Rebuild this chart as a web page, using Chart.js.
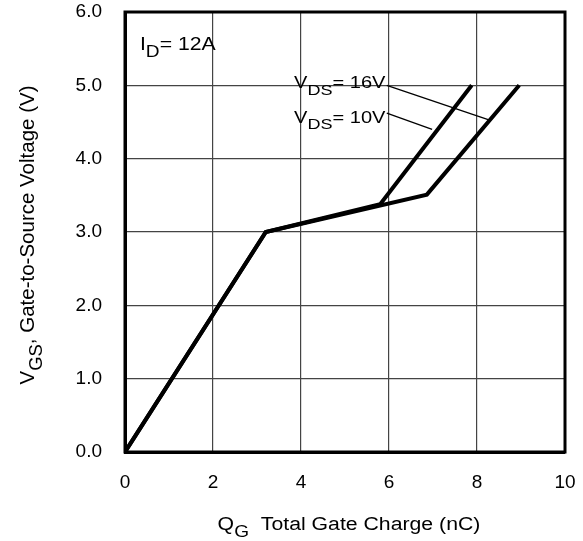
<!DOCTYPE html>
<html>
<head>
<meta charset="utf-8">
<script src="https://cdn.jsdelivr.net/npm/chart.js@4"></script>
<style>
  html, body { margin: 0; padding: 0; background: #fff; }
  #wrap { width: 583px; height: 541px; }
</style>
</head>
<body>
<div id="wrap"><canvas id="gate-chart"></canvas></div>
<script>
// gate charge curves (x = Qg in nC, y = Vgs in V)
const vds16Q = [0, 3.2, 5.8, 7.88];
const vds16V = [0, 3.0, 3.38, 5.0];
const vds10Q = [0, 3.2, 6.86, 8.96];
const vds10V = [0, 3.0, 3.51, 5.0];

// leader lines from the labels to the curves
const lead16Q = [5.95, 8.27];
const lead16V = [5.0, 4.53];
const lead10Q = [5.95, 6.98];
const lead10V = [4.62, 4.40];

const xTicks = [0, 2, 4, 6, 8, 10];
const yTicks = [0, 1, 2, 3, 4, 5, 6];

const xTitle = [['Q'], ['G', 'sub'], ['  Total Gate Charge (nC)']];
const yTitle = [['V'], ['GS', 'sub'], [', Gate-to-Source Voltage (V)']];
const notes = [
  { q: 0.34, v: 5.48, align: 'left', size: 18, parts: [['I'], ['D', 'sub'], ['= 12A']] },
  { q: 5.92, v: 4.96, align: 'right', size: 17, parts: [['V'], ['DS', 'sub'], ['= 16V']] },
  { q: 5.92, v: 4.49, align: 'right', size: 17, parts: [['V'], ['DS', 'sub'], ['= 10V']] }
];

function toPoints(xs, ys) {
  return xs.map((x, i) => ({ x: x, y: ys[i] }));
}

const FONT = '"Liberation Sans", Arial, sans-serif';
const SX = 1.18; // the original lettering is a bit wide

// text with subscripts, drawn at baseline (x, y)
function partsWidth(ctx, parts, size) {
  let w = 0;
  for (const p of parts) {
    ctx.font = (p[1] ? size * 0.9 : size) + 'px ' + FONT;
    w += ctx.measureText(p[0]).width;
  }
  return w;
}
function drawParts(ctx, parts, x, y, size, align) {
  ctx.save();
  ctx.translate(x, y);
  ctx.scale(SX, 1);
  let w = partsWidth(ctx, parts, size);
  let cx = align === 'right' ? -w : (align === 'center' ? -w / 2 : 0);
  ctx.fillStyle = '#000';
  ctx.textBaseline = 'alphabetic';
  ctx.textAlign = 'left';
  for (const p of parts) {
    let s = p[1] ? size * 0.9 : size;
    ctx.font = s + 'px ' + FONT;
    ctx.fillText(p[0], cx, p[1] ? size * 0.38 : 0);
    cx += ctx.measureText(p[0]).width;
  }
  ctx.restore();
}

const extras = {
  id: 'extras',
  afterDraw(chart) {
    const ctx = chart.ctx;
    const a = chart.chartArea;
    const xs = chart.scales.x, ys = chart.scales.y;
    // frame
    ctx.save();
    ctx.strokeStyle = '#000';
    ctx.lineWidth = 3;
    ctx.strokeRect(a.left, a.top, a.right - a.left, a.bottom - a.top);
    ctx.restore();
    // labels in the plot
    for (const n of notes) {
      drawParts(ctx, n.parts, xs.getPixelForValue(n.q), ys.getPixelForValue(n.v), n.size, n.align);
    }
    // axis titles
    drawParts(ctx, xTitle, (a.left + a.right) / 2 + 4, 530, 18, 'center');
    ctx.save();
    ctx.translate(34, (a.top + a.bottom) / 2 + 3);
    ctx.rotate(-Math.PI / 2);
    ctx.scale(1 / SX, 1);
    drawParts(ctx, yTitle, 0, 0, 20.5, 'center');
    ctx.restore();
  }
};

const lineStyle = { borderColor: '#000', borderWidth: 4, pointRadius: 0, fill: false, tension: 0, borderJoinStyle: 'miter' };
const leadStyle = { borderColor: '#000', borderWidth: 1.3, pointRadius: 0, fill: false, tension: 0 };

new Chart(document.querySelector('#gate-chart'), {
  type: 'line',
  data: {
    datasets: [
      Object.assign({ label: 'VDS = 16V', data: toPoints(vds16Q, vds16V) }, lineStyle),
      Object.assign({ label: 'VDS = 10V', data: toPoints(vds10Q, vds10V) }, lineStyle),
      Object.assign({ label: 'lead16', data: toPoints(lead16Q, lead16V) }, leadStyle),
      Object.assign({ label: 'lead10', data: toPoints(lead10Q, lead10V) }, leadStyle)
    ]
  },
  options: {
    responsive: true,
    maintainAspectRatio: false,
    animation: false,
    layout: { padding: { top: 12, right: 18, left: 0, bottom: 0 } },
    plugins: { legend: { display: false }, tooltip: { enabled: false } },
    scales: {
      x: {
        type: 'linear',
        min: 0, max: 10,
        afterBuildTicks: (s) => { s.ticks = xTicks.map(v => ({ value: v })); },
        afterFit: (s) => { s.height = 89; s.paddingLeft = 0; s.paddingRight = 0; },
        grid: { color: '#444', lineWidth: 1.2, drawTicks: false },
        border: { color: '#000', width: 3 },
        ticks: { color: '#000', padding: 19, font: { family: FONT, size: 19 } }
      },
      y: {
        type: 'linear',
        min: 0, max: 6,
        afterBuildTicks: (s) => { s.ticks = yTicks.map(v => ({ value: v })); },
        afterFit: (s) => { s.width = 125; s.paddingTop = 0; s.paddingBottom = 0; },
        grid: { color: '#444', lineWidth: 1.2, drawTicks: false },
        border: { color: '#000', width: 3 },
        ticks: { color: '#000', padding: 23, font: { family: FONT, size: 19 }, callback: (v) => v.toFixed(1) }
      }
    }
  },
  plugins: [extras]
});
</script>
</body>
</html>
